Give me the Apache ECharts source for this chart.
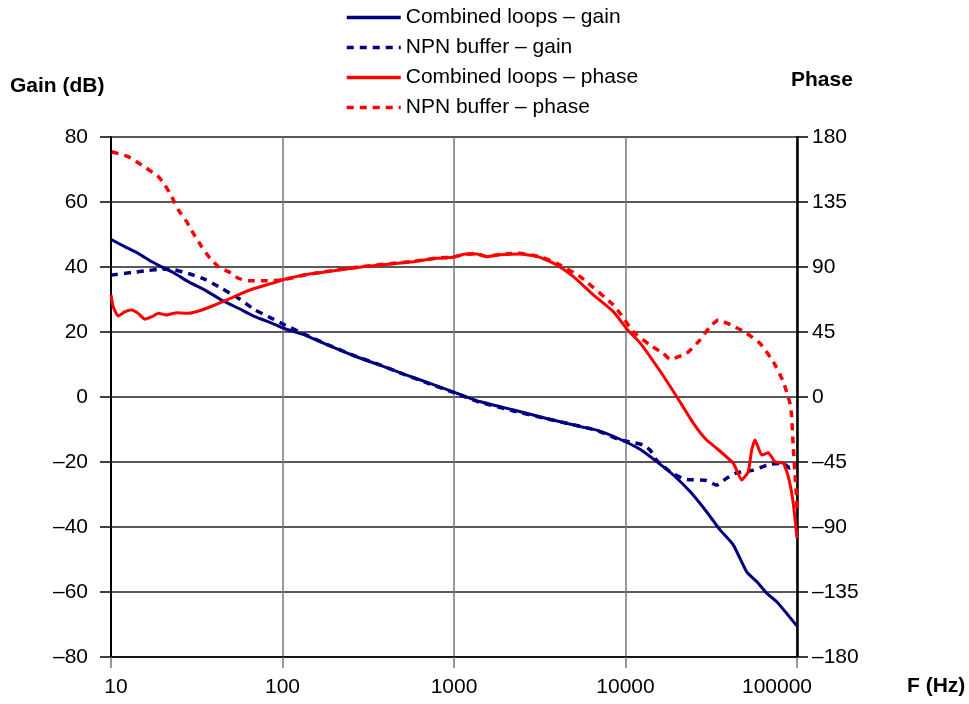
<!DOCTYPE html>
<html>
<head>
<meta charset="utf-8">
<script src="https://cdn.jsdelivr.net/npm/echarts@6/dist/echarts.min.js"></script>
<style>
html,body{margin:0;padding:0;background:#fff;}
#c{width:969px;height:704px;}
</style>
</head>
<body>
<div id="c"></div>
<script>
// ---- Data ----
const seriesNames = ['Combined loops – gain', 'NPN buffer – gain', 'Combined loops – phase', 'NPN buffer – phase'];

const combGainF = [10, 12.1, 14.4, 17.3, 20.2, 23.6, 28.2, 35.3, 44.2, 55.3, 69.1, 86.6, 103, 133, 189, 260, 370, 520, 725, 990, 1410, 2230, 3470, 5440, 6810, 9290, 12150, 15200, 19000, 23800, 29700, 35600, 42500, 50900, 58200, 66600, 76200, 87100, 100000];
const combGainV = [48.5, 46.2, 44.2, 41.6, 39.8, 38.0, 35.5, 32.9, 29.8, 27.3, 24.7, 22.7, 21.0, 19.2, 15.7, 12.7, 9.8, 6.9, 4.2, 1.6, -1.4, -4.0, -6.6, -9.1, -10.2, -13.0, -16.1, -19.9, -24.0, -29.1, -35.3, -40.9, -45.5, -53.8, -56.8, -60.4, -63.0, -66.6, -70.5];

const npnGainF = [10, 13.2, 16.4, 19.8, 23.6, 28.2, 35.3, 44.2, 55.3, 69.1, 86.6, 103, 133, 189, 260, 370, 520, 725, 990, 1410, 2230, 3470, 5440, 6810, 9290, 11100, 12700, 13900, 15200, 18200, 22200, 29700, 34000, 38900, 44500, 55600, 69600, 83200, 91000, 100000];
const npnGainV = [37.5, 38.3, 38.9, 39.4, 39.1, 38.0, 36.2, 33.4, 30.4, 26.8, 24.2, 22.2, 19.4, 15.8, 12.8, 9.9, 6.8, 4.0, 1.4, -1.6, -4.3, -6.7, -9.0, -10.3, -13.2, -14.0, -14.8, -16.3, -19.5, -23.0, -25.3, -25.7, -27.1, -25.0, -23.3, -22.5, -20.7, -20.4, -21.9, -20.9];

const combPhaseF = [10, 10.3, 11.0, 12.1, 13.2, 14.4, 15.8, 17.3, 18.9, 21.1, 24.2, 28.2, 33.8, 40.4, 48.3, 57.7, 69.1, 86.6, 103, 133, 165, 295, 580, 792, 990, 1160, 1350, 1550, 1860, 2420, 3170, 3970, 4970, 6510, 8500, 10200, 12150, 15900, 19900, 24900, 29700, 34000, 42500, 47600, 52000, 54400, 56900, 62300, 68000, 74400, 83200, 89000, 95100, 100000];
const combPhaseV = [70.6, 62.5, 56.1, 59.1, 60.2, 57.9, 53.8, 55.6, 57.9, 56.8, 58.4, 57.9, 60.2, 63.7, 67.6, 71.8, 75.3, 78.7, 81.5, 84.5, 86.0, 90.2, 93.7, 96.0, 96.7, 99.0, 99.0, 97.1, 98.5, 99.0, 96.7, 91.4, 83.3, 70.6, 59.1, 47.0, 37.5, 18.0, 0.2, -18.2, -29.8, -35.5, -45.9, -57.5, -51.7, -36.7, -29.8, -40.2, -38.6, -44.8, -45.9, -55.2, -73.6, -97.8];

const npnPhaseF = [10.1, 12.6, 15.1, 18.9, 20.6, 22.6, 24.7, 27.6, 30.2, 33.8, 37.8, 42.3, 48.3, 55.3, 63.2, 79.1, 99, 133, 165, 295, 580, 792, 990, 1160, 1350, 1550, 1860, 2420, 3170, 3970, 5440, 8500, 9290, 11100, 13900, 16600, 18200, 22700, 27200, 31100, 34800, 42500, 50900, 60800, 72800, 83200, 91000, 93100, 95100, 97300, 99600, 100000];
const npnPhaseV = [169.8, 166.4, 160.6, 152.5, 146.8, 138.7, 129.5, 121.4, 113.3, 104.0, 96.0, 90.2, 86.8, 82.2, 80.5, 80.5, 81.0, 84.3, 86.3, 90.4, 93.9, 96.2, 96.9, 98.8, 99.2, 97.3, 98.7, 99.5, 97.2, 92.5, 83.3, 63.7, 58.0, 45.2, 36.0, 30.2, 26.1, 30.2, 39.5, 48.7, 53.3, 49.2, 44.1, 37.2, 24.4, 10.6, -4.4, -13.6, -34.4, -52.8, -71.3, -80.0];

const xTicks = [10, 100, 1000, 10000, 100000];
const gainRange = [-80, 80, 20];
const phaseRange = [-180, 180, 45];

// ---- Chart ----
const pairs = (f, v) => f.map((x, i) => [x, v[i]]);
const navy = '#000080', red = '#ff0000';
const font = 'Liberation Sans, Arial, Helvetica, sans-serif';
const dash = (v) => String(v).replace('-', '–');

const chart = echarts.init(document.getElementById('c'), null, {renderer: 'canvas'});
chart.setOption({
  animation: false,
  backgroundColor: '#fff',
  textStyle: {fontFamily: font},
  grid: {left: 111, right: 172, top: 137, bottom: 47, containLabel: false},
  legend: {
    orient: 'vertical', left: 345, top: 7, padding: 0,
    itemWidth: 54, itemHeight: 14, itemGap: 9,
    itemStyle: {opacity: 0},
    lineStyle: {width: 3.5},
    textStyle: {fontSize: 21, color: '#000', fontFamily: font},
    data: seriesNames
  },
  xAxis: {
    type: 'log', logBase: 10, min: 10, max: 100000,
    axisLine: {show: true, onZero: false, lineStyle: {color: '#000', width: 1.5}},
    axisTick: {show: true, length: 11, lineStyle: {color: '#777', width: 1.5}},
    minorTick: {show: false},
    axisLabel: {fontSize: 21, color: '#000', margin: 20, fontFamily: font,
      formatter: (v) => {
        const r = Math.round(v);
        if (r === xTicks[0]) return '{first|' + r + '}';
        if (r === xTicks[xTicks.length - 1]) return '{last|' + r + '}';
        return String(r);
      },
      rich: {
        first: {fontSize: 21, fontFamily: font, color: '#000', padding: [0, 0, 0, 10]},
        last: {fontSize: 21, fontFamily: font, color: '#000', padding: [0, 40, 0, 0]}
      }
    },
    splitLine: {show: true, lineStyle: {color: '#777', width: 1.5}}
  },
  yAxis: [
    {
      type: 'value', min: gainRange[0], max: gainRange[1], interval: gainRange[2],
      axisLine: {show: true, lineStyle: {color: '#000', width: 2}},
      axisTick: {show: true, length: 11, lineStyle: {color: '#000', width: 1.5}},
      axisLabel: {fontSize: 21, color: '#000', margin: 23, fontFamily: font, formatter: dash},
      splitLine: {show: true, lineStyle: {color: '#222', width: 1.5}}
    },
    {
      type: 'value', min: phaseRange[0], max: phaseRange[1], interval: phaseRange[2], position: 'right',
      axisLine: {show: true, lineStyle: {color: '#000', width: 2.5}},
      axisTick: {show: true, length: 11, lineStyle: {color: '#000', width: 1.5}},
      axisLabel: {fontSize: 21, color: '#000', margin: 15, fontFamily: font, formatter: dash},
      splitLine: {show: false}
    }
  ],
  graphic: [
    {type: 'text', left: 10, top: 76, style: {text: 'Gain (dB)', font: 'bold 21px ' + font, fill: '#000'}},
    {type: 'text', left: 791, top: 70, style: {text: 'Phase', font: 'bold 21px ' + font, fill: '#000'}},
    {type: 'text', left: 907, top: 676, style: {text: 'F (Hz)', font: 'bold 21px ' + font, fill: '#000'}}
  ],
  series: [
    {name: seriesNames[0], type: 'line', yAxisIndex: 0, symbol: 'none', smooth: 0.15, z: 3,
      data: pairs(combGainF, combGainV), lineStyle: {color: navy, width: 3}, itemStyle: {color: navy}},
    {name: seriesNames[1], type: 'line', yAxisIndex: 0, symbol: 'none', smooth: 0.15, z: 2,
      data: pairs(npnGainF, npnGainV), lineStyle: {color: navy, width: 3.5, type: [7, 6]}, itemStyle: {color: navy}},
    {name: seriesNames[2], type: 'line', yAxisIndex: 1, symbol: 'none', smooth: 0.15, z: 3,
      data: pairs(combPhaseF, combPhaseV), lineStyle: {color: red, width: 3}, itemStyle: {color: red}},
    {name: seriesNames[3], type: 'line', yAxisIndex: 1, symbol: 'none', smooth: 0.15, z: 2,
      data: pairs(npnPhaseF, npnPhaseV), lineStyle: {color: red, width: 3.5, type: [7, 6]}, itemStyle: {color: red}}
  ]
});
</script>
</body>
</html>
